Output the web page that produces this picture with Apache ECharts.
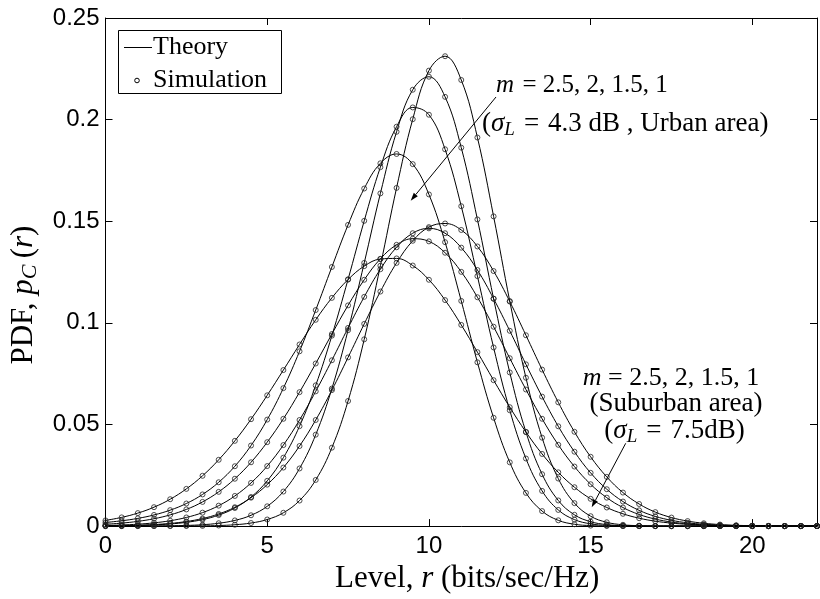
<!DOCTYPE html>
<html>
<head>
<meta charset="utf-8">
<script src="https://cdn.jsdelivr.net/npm/echarts@6/dist/echarts.min.js"></script>
<style>html,body{margin:0;padding:0;background:#fff}#c{width:820px;height:599px}</style>
</head>
<body>
<div id="c"></div>
<script>
// Level r (bits/sec/Hz)
const levels = [0,0.5,1,1.5,2,2.5,3,3.5,4,4.5,5,5.5,6,6.5,7,7.5,8,8.5,9,9.5,10,10.5,11,11.5,12,12.5,13,13.5,14,14.5,15,15.5,16,16.5,17,17.5,18,18.5,19,19.5,20,20.5,21,21.5,22];

// Urban area (sigma_L = 4.3 dB)
const urbanM25 = [0,0,0,0.00001,0.00002,0.00004,0.00011,0.00028,0.00067,0.00151,0.00324,0.00656,0.01257,0.0227,0.03858,0.06155,0.0919,0.1281,0.1664,0.2002,0.2241,0.2312,0.2195,0.1912,0.1524,0.1107,0.073,0.0435,0.0234,0.0113,0.00487,0.00187,0.00064,0.00019,0.00005,0.00001,0,0,0,0,0,0,0,0,0];
const urbanM2 = [0.000004,0.000011,0.000027,0.000063,0.000145,0.00032,0.00068,0.00141,0.0028,0.00533,0.00974,0.017,0.02836,0.04497,0.06767,0.09638,0.1295,0.1637,0.194,0.2147,0.2211,0.2112,0.1862,0.1509,0.1119,0.0756,0.0463,0.02553,0.01262,0.00556,0.00217,0.00074,0.00022,0.00006,0.00001,0,0,0,0,0,0,0,0,0,0];
const urbanM15 = [0.00009,0.00017,0.00032,0.00059,0.00105,0.00186,0.0032,0.00541,0.00891,0.01429,0.02227,0.03367,0.04917,0.06925,0.09371,0.1214,0.1502,0.1766,0.1965,0.206,0.2024,0.1854,0.1574,0.123,0.0879,0.057,0.03326,0.01731,0.00796,0.0032,0.00111,0.00033,0.00008,0.00002,0,0,0,0,0,0,0,0,0,0,0];
const urbanM1 = [0.00179,0.00262,0.0038,0.00549,0.00785,0.01111,0.01558,0.02157,0.02946,0.03964,0.05239,0.06788,0.086,0.1063,0.1275,0.1482,0.1661,0.1785,0.1831,0.1781,0.1632,0.1397,0.1108,0.0806,0.0533,0.03137,0.01633,0.00739,0.00285,0.00091,0.00024,0.00005,0.00001,0,0,0,0,0,0,0,0,0,0,0,0];

// Suburban area (sigma_L = 7.5 dB)
const suburbanM25 = [0.00011,0.00022,0.00041,0.00075,0.00132,0.00225,0.00372,0.00597,0.00928,0.01399,0.0204,0.0288,0.0394,0.0522,0.0669,0.083,0.0995,0.1154,0.1295,0.1404,0.1471,0.1489,0.1457,0.1376,0.1255,0.1105,0.0939,0.077,0.0609,0.0464,0.0341,0.0242,0.0165,0.01087,0.00689,0.0042,0.00247,0.0014,0.00076,0.0004,0.0002,0.0001,0.00004,0.00002,0.00001];
const suburbanM2 = [0.0003,0.00054,0.00094,0.0016,0.00264,0.00425,0.00663,0.01006,0.01484,0.02126,0.02954,0.03987,0.0522,0.0663,0.0816,0.0975,0.1128,0.1264,0.1372,0.1441,0.1465,0.1441,0.137,0.126,0.1119,0.0961,0.0796,0.0637,0.0491,0.0366,0.0262,0.01814,0.01208,0.00775,0.00478,0.00284,0.00162,0.00089,0.00047,0.00024,0.00012,0.00005,0.00002,0.00001,0];
const suburbanM15 = [0.0009,0.00147,0.00233,0.00363,0.00552,0.0082,0.0119,0.01685,0.0233,0.0314,0.0413,0.0528,0.0659,0.08,0.0945,0.1086,0.1212,0.1315,0.1384,0.1414,0.1401,0.1345,0.1251,0.1126,0.0981,0.0826,0.0672,0.0528,0.04,0.0293,0.0206,0.01399,0.00913,0.00573,0.00345,0.002,0.00111,0.00059,0.0003,0.00015,0.00007,0.00003,0.00001,0,0];
const suburbanM1 = [0.0028,0.00429,0.0064,0.00931,0.01322,0.01832,0.02475,0.03263,0.04195,0.0526,0.06435,0.07678,0.08936,0.1015,0.1123,0.1213,0.1279,0.1314,0.1317,0.1282,0.1212,0.1112,0.099,0.0856,0.0718,0.0585,0.0463,0.0355,0.02646,0.01913,0.01342,0.00915,0.00605,0.00389,0.00242,0.00147,0.00086,0.00049,0.00027,0.00014,0.00007,0.00004,0.00002,0.00001,0];

const xTicks = [0,5,10,15,20];
const yTicks = [0,0.05,0.1,0.15,0.2,0.25];

const SERIF = '"Liberation Serif", "Times New Roman", serif';
const SANS = '"Liberation Sans", Arial, sans-serif';

const curves = [urbanM25, urbanM2, urbanM15, urbanM1, suburbanM25, suburbanM2, suburbanM15, suburbanM1];

const series = [];
curves.forEach(vals => {
  const pts = levels.map((x, i) => [x, vals[i]]);
  series.push({
    type: 'line', name: 'Theory', data: pts, smooth: 0.4,
    showSymbol: false, symbol: 'none', lineStyle: { color: '#000', width: 1 },
    silent: true, z: 2
  });
  series.push({
    type: 'scatter', name: 'Simulation', data: pts, symbol: 'circle', symbolSize: 5,
    itemStyle: { color: 'rgba(0,0,0,0)', borderColor: '#222', borderWidth: 1 },
    silent: true, z: 3
  });
});

const axisBase = {
  axisLine: { show: true, onZero: false, lineStyle: { color: '#000', width: 1 } },
  axisTick: { show: true, inside: true, length: 7, lineStyle: { color: '#000', width: 1 } },
  splitLine: { show: false }
};

function nameRich(size) {
  return {
    n: { fontFamily: SERIF, fontSize: size, color: '#000', lineHeight: size + 5 },
    i: { fontFamily: SERIF, fontSize: size, fontStyle: 'italic', color: '#000', lineHeight: size + 5 },
    s: { fontFamily: SERIF, fontSize: Math.round(size * 0.7), fontStyle: 'italic', color: '#000', lineHeight: Math.round(size * 0.6), verticalAlign: 'bottom' }
  };
}

function txt(x, y, text, size, align, rich) {
  return {
    type: 'text', x: x, y: y, z: 101,
    style: {
      text: text, font: size + 'px ' + SERIF, fill: '#000',
      align: align, textAlign: align, verticalAlign: 'middle', textVerticalAlign: 'middle',
      rich: rich
    }
  };
}
function annRich(size) {
  return {
    n: { fontFamily: SERIF, fontSize: size, fill: '#000', color: '#000', lineHeight: size + 4 },
    i: { fontFamily: SERIF, fontSize: size, fontStyle: 'italic', fill: '#000', color: '#000', lineHeight: size + 4 },
    s: { fontFamily: SERIF, fontSize: Math.round(size * 0.7), fontStyle: 'italic', fill: '#000', color: '#000', lineHeight: Math.round(size * 0.62), verticalAlign: 'bottom' }
  };
}
function arrow(x1, y1, x2, y2) {
  const dx = x2 - x1, dy = y2 - y1, L = Math.hypot(dx, dy);
  const ux = dx / L, uy = dy / L, px = -uy, py = ux;
  const hl = 8, hw = 2.6;
  const bx = x2 - ux * hl, by = y2 - uy * hl;
  return [
    { type: 'line', z: 100, shape: { x1: x1, y1: y1, x2: bx, y2: by }, style: { stroke: '#000', lineWidth: 1 } },
    { type: 'polygon', z: 100, shape: { points: [[x2, y2], [bx + px * hw, by + py * hw], [bx - px * hw, by - py * hw]] }, style: { fill: '#000' } }
  ];
}

const SP = '\u2004';
const graphics = [
  { type: 'rect', z: 100, shape: { x: 118.5, y: 30.5, width: 163, height: 63 }, style: { fill: '#fff', stroke: '#000', lineWidth: 1 } },
  { type: 'line', z: 101, shape: { x1: 124, y1: 47.5, x2: 152, y2: 47.5 }, style: { stroke: '#000', lineWidth: 1 } },
  txt(153, 47, 'Theory', 26, 'left'),
  { type: 'circle', z: 101, shape: { cx: 137, cy: 80.5, r: 2.3 }, style: { fill: 'rgba(0,0,0,0)', stroke: '#000', lineWidth: 1 } },
  txt(153, 80, 'Simulation', 26, 'left'),
  txt(496, 85, '{i|m}{n|' + SP + '= 2.5, 2, 1.5, 1}', 25, 'left', annRich(25)),
  txt(482, 124, '{n|(}{i|σ}{s|L}{n|' + SP + '=' + SP + '4.3 dB , Urban area)}', 27, 'left', annRich(27)),
  txt(671, 378, '{i|m}{n| = 2.5, 2, 1.5, 1}', 26, 'center', annRich(26)),
  txt(676, 404, '(Suburban area)', 27, 'center'),
  txt(674.5, 431, '{n|(}{i|σ}{s|L}{n|' + SP + '=' + SP + '7.5dB)}', 27, 'center', annRich(27))
].concat(arrow(496, 97, 410.7, 200.7)).concat(arrow(625.7, 443.3, 591.7, 507.3));

const chart = echarts.init(document.getElementById('c'), null, { renderer: 'canvas', width: 820, height: 599 });
chart.setOption({
  animation: false,
  backgroundColor: '#fff',
  grid: { left: 102, top: 18, width: 722, height: 510, containLabel: false },
  xAxis: [
    Object.assign({
      type: 'value', min: xTicks[0], max: 22, interval: 5, position: 'bottom', gridIndex: 0,
      axisLabel: { color: '#000', fontFamily: SANS, fontSize: 24, margin: 8,
        formatter: v => (xTicks.indexOf(v) >= 0 ? String(v) : '') },
      name: '{n|Level, }{i|r}{n| (bits/sec/Hz)}',
      nameLocation: 'middle', nameGap: 33,
      nameTextStyle: { color: '#000', fontFamily: SERIF, fontSize: 31, padding: [0, 0, 0, 12], rich: nameRich(31) }
    }, axisBase),
    Object.assign({
      type: 'value', min: 0, max: 22, interval: 5, position: 'top', gridIndex: 0,
      axisLabel: { show: false }
    }, axisBase)
  ],
  yAxis: [
    Object.assign({
      type: 'value', min: yTicks[0], max: yTicks[yTicks.length - 1], interval: 0.05, position: 'left', gridIndex: 0,
      axisLabel: { color: '#000', fontFamily: SANS, fontSize: 24, margin: 6,
        formatter: v => String(+v.toFixed(2)) },
      name: '{n|PDF, }{i|p}{s|C}{n|\u2009(}{i|r}{n|)}',
      nameLocation: 'middle', nameGap: 64, nameRotate: 90,
      nameTextStyle: { color: '#000', fontFamily: SERIF, fontSize: 31, padding: [0, 46, 0, 0], rich: nameRich(31) }
    }, axisBase),
    Object.assign({
      type: 'value', min: 0, max: 0.25, interval: 0.05, position: 'right', gridIndex: 0,
      axisLabel: { show: false }
    }, axisBase)
  ],
  series: series,
  graphic: graphics
});
</script>
</body>
</html>
